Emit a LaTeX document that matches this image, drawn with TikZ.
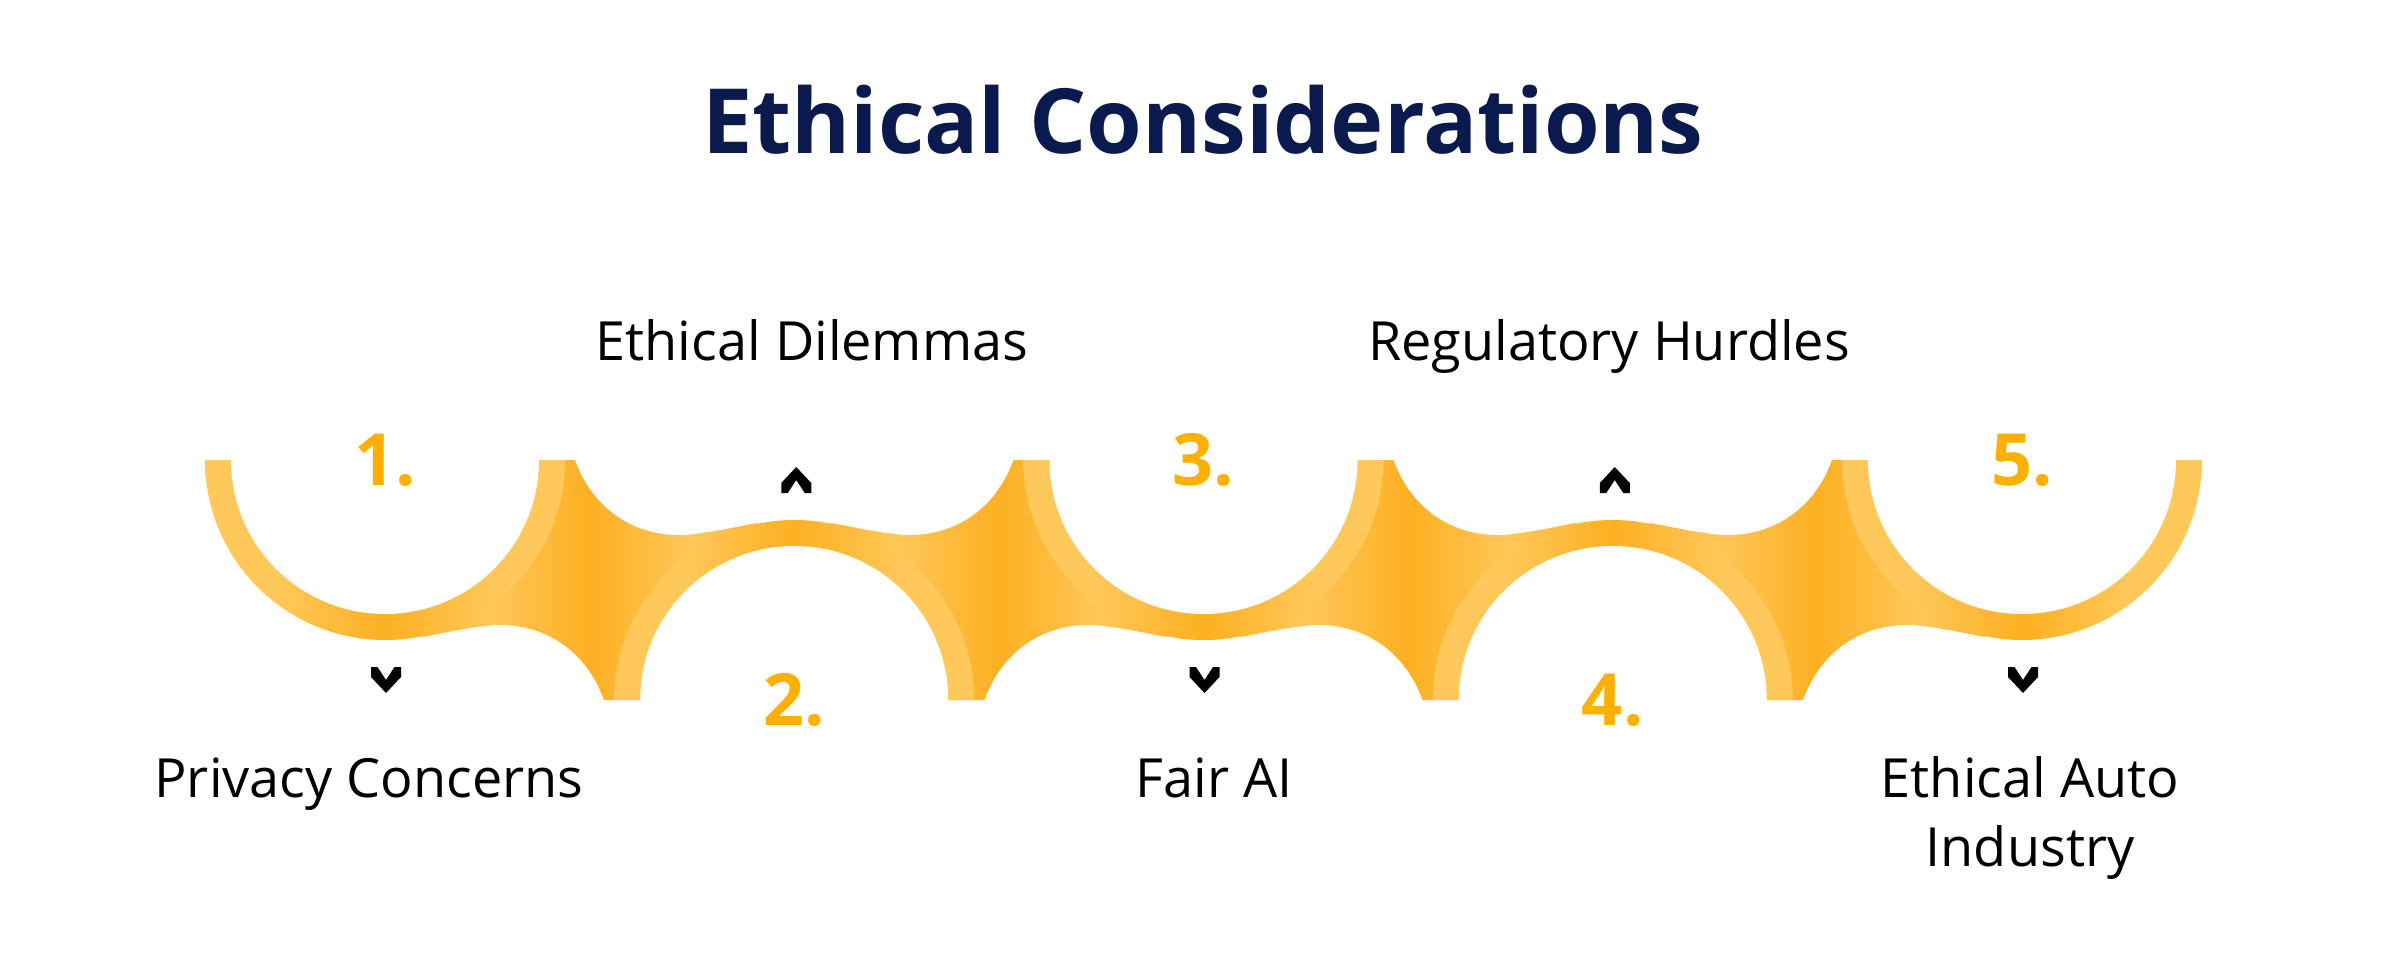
\documentclass[tikz,border=0pt]{standalone}
\usepackage{fontspec}
\setmainfont{Open Sans}
\definecolor{ringL}{HTML}{FFC85A}
\definecolor{connD}{HTML}{FDB022}
\definecolor{connL}{HTML}{FFC75A}
\definecolor{numC}{HTML}{FDB000}
\definecolor{titleC}{HTML}{0A1A4E}
\pgfdeclarehorizontalshading{connshade}{100bp}{color(0bp)=(connD); color(25bp)=(connD); color(37.5bp)=(connL); color(50bp)=(connD); color(62.5bp)=(connL); color(75bp)=(connD); color(100bp)=(connD)}
\pgfdeclarehorizontalshading{ringshade}{100bp}{color(0bp)=(ringL); color(25bp)=(ringL); color(35bp)=(ringL); color(50bp)=(connD); color(65bp)=(ringL); color(75bp)=(ringL); color(100bp)=(ringL)}
\def\connpath{(190,0) .. controls (208,50) and (250,77) .. (300,75) .. controls (330,72) and (350,67) .. (372,63) -- (409.25,240) -- (219,240) .. controls (201,190) and (159,163) .. (109,165) .. controls (79,168) and (59,173) .. (37,177) -- (0,0) -- cycle}
\def\chevpath{(-15,-13) -- (-8.5,-13) -- (0,0) -- (8.5,-13) -- (15,-13) -- (15,-3) -- (0,13) -- (-15,-3) -- cycle}
\begin{document}
\begin{tikzpicture}[x=0.5pt,y=-0.5pt,
  lbl/.style={font=\fontsize{27}{34.5}\selectfont, text=black, anchor=base, inner sep=0pt},
  num/.style={font=\fontsize{36}{40}\selectfont\bfseries, text=numC, inner sep=0pt},
  ttl/.style={font=\fontsize{45}{52}\selectfont\bfseries, text=titleC, anchor=base, inner sep=0pt},
  conn/.style={shading=connshade},
  ringsh/.style={shading=ringshade},
  hollow/.style={fill=white},
  chev/.style={fill=black}]
\useasboundingbox[fill=white] (0,0) rectangle (2400,954);
% connectors
\foreach \c in {385,1203.5}{
  \begin{scope}[shift={(\c,460)}]
    \shade[conn] \connpath;
  \end{scope}}
\foreach \c in {1203.5,2022}{
  \begin{scope}[shift={(\c,460)},xscale=-1]
    \shade[conn] \connpath;
  \end{scope}}
% rings opening upward
\foreach \c in {385,1203.5,2022}{
  \shade[ringsh] (\c+180,460) arc[start angle=0,end angle=180,radius=180] -- cycle;
  \fill[hollow] (\c+154,456) -- (\c+154,460) arc[start angle=0,end angle=180,radius=154] -- (\c-154,456) -- cycle;
  \begin{scope}[shift={(\c+1,680)}]
    \fill[chev] \chevpath;
  \end{scope}}
% rings opening downward
\foreach \c in {794.25,1612.75}{
  \shade[ringsh] (\c+180,700) arc[start angle=0,end angle=-180,radius=180] -- cycle;
  \fill[hollow] (\c+154,704) -- (\c+154,700) arc[start angle=0,end angle=-180,radius=154] -- (\c-154,704) -- cycle;
  \begin{scope}[shift={(\c+2,480)},yscale=-1]
    \fill[chev] \chevpath;
  \end{scope}}
% title
\node[ttl] (title) at (1203,153) {Ethical Considerations};
% numbers
\node[num] (n1) at (385,460) {1.};
\node[num] (n2) at (794.25,700) {2.};
\node[num] (n3) at (1203.5,460) {3.};
\node[num] (n4) at (1612.75,700) {4.};
\node[num] (n5) at (2022,460) {5.};
% labels
\node[lbl] (l1) at (369,797) {Privacy Concerns};
\node[lbl] (l2) at (812,360) {Ethical Dilemmas};
\node[lbl] (l3) at (1214,797) {Fair AI};
\node[lbl] (l4) at (1609,360) {Regulatory Hurdles};
\node[lbl,align=center] (l5) at (2030,866) {Ethical Auto\\Industry};
\end{tikzpicture}
\end{document}
